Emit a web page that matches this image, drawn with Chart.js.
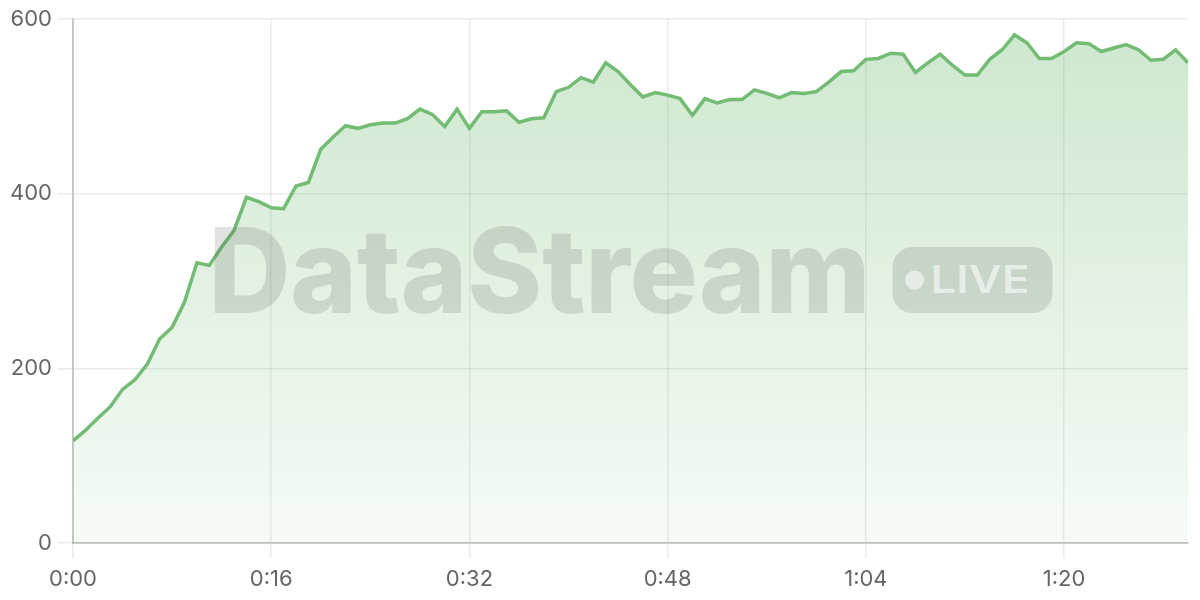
<!DOCTYPE html>
<html>
<head>
<meta charset="utf-8">
<script src="https://cdn.jsdelivr.net/npm/chart.js@4/dist/chart.umd.min.js"></script>
<style>
html,body{margin:0;padding:0;background:#fff;}
#wrap{width:1200px;height:600px;position:relative;}
</style>
</head>
<body>
<div id="wrap"><canvas id="c" width="1200" height="600"></canvas></div>
<script>
// seconds elapsed
const seconds = [
  0,1,2,3,4,5,6,7,8,9,10,11,12,13,14,15,16,17,18,19,
  20,21,22,23,24,25,26,27,28,29,30,31,32,33,34,35,36,37,38,39,
  40,41,42,43,44,45,46,47,48,49,50,51,52,53,54,55,56,57,58,59,
  60,61,62,63,64,65,66,67,68,69,70,71,72,73,74,75,76,77,78,79,
  80,81,82,83,84,85,86,87,88,89,90
];
const values = [
  117,129,143,156,176,187,205,234,247,276,321,318,339,358,396,391,384,383,409,413,
  451,465,478,475,479,481,481,486,497,491,477,497,475,494,494,495,482,486,487,517,
  522,533,528,550,540,525,511,516,513,509,490,509,504,508,508,519,515,510,516,515,
  517,528,540,541,554,555,561,560,539,550,560,547,536,536,554,565,582,573,555,555,
  563,573,572,563,567,571,565,553,554,565,550
];
const yTicks = [0,200,400,600];
const xTickStep = 16;
const watermarkText = "DataStream";
const badgeText = "LIVE";

function fmtTime(s){
  const m = Math.floor(s/60), r = Math.round(s%60);
  return m + ":" + (r<10?"0":"") + r;
}

const watermark = {
  id:'watermark',
  afterDraw(chart){
    const ctx = chart.ctx, a = chart.chartArea;
    const cx = (a.left+a.right)/2, cy = (a.top+a.bottom)/2;
    const textW = 662, gap = 22, badgeW = 160, badgeH = 66;
    const total = textW+gap+badgeW;
    const left = cx - total/2;
    const baseline = cy + 32;
    ctx.save();
    ctx.fillStyle = 'rgba(70,80,70,0.17)';
    ctx.font = '800 118px Inter, "Open Sans", sans-serif';
    ctx.textBaseline = 'alphabetic';
    ctx.textAlign = 'left';
    const mw = ctx.measureText(watermarkText).width;
    ctx.save();
    ctx.translate(left, baseline);
    ctx.scale(textW/mw, 1);
    ctx.fillText(watermarkText, 0, 0);
    ctx.restore();
    // badge
    const bx = left+textW+gap, by = baseline-badgeH;
    ctx.beginPath();
    ctx.roundRect(bx, by, badgeW, badgeH, 20);
    ctx.fill();
    ctx.fillStyle = 'rgba(255,255,255,0.55)';
    ctx.beginPath();
    ctx.arc(bx+22, by+badgeH/2, 9.5, 0, Math.PI*2);
    ctx.fill();
    ctx.font = '600 38px Inter, "Open Sans", sans-serif';
    ctx.textBaseline = 'middle';
    const lw = ctx.measureText(badgeText).width;
    ctx.save();
    ctx.translate(bx+38, by+badgeH/2+1);
    ctx.scale(99/lw, 1);
    ctx.fillText(badgeText, 0, 0);
    ctx.restore();
    ctx.restore();
  }
};

const ctx = document.getElementById('c').getContext('2d');
new Chart(ctx, {
  type:'line',
  data:{
    datasets:[{
      data: seconds.map((s,i)=>({x:s, y:values[i]})),
      borderColor:'rgb(114,188,116)',
      borderWidth:3.5,
      pointRadius:0,
      tension:0,
      fill:'origin',
      backgroundColor(context){
        const c = context.chart, a = c.chartArea;
        if(!a) return 'rgba(112,186,114,0.2)';
        const g = c.ctx.createLinearGradient(0, a.top, 0, a.bottom);
        g.addColorStop(0, 'rgba(112,186,114,0.35)');
        g.addColorStop(1, 'rgba(112,186,114,0.06)');
        return g;
      }
    }]
  },
  options:{
    responsive:false,
    animation:false,
    devicePixelRatio:1,
    layout:{padding:{top:19,right:12,left:0,bottom:0}},
    plugins:{legend:{display:false},tooltip:{enabled:false}},
    scales:{
      x:{
        type:'linear',
        min:0, max:seconds[seconds.length-1],
        afterFit(s){ s.height = 57; },
        afterBuildTicks(s){ s.ticks = []; for(let v=0; v<=s.max; v+=xTickStep) s.ticks.push({value:v}); },
        ticks:{
          callback:(v)=>fmtTime(v),
          color:'#666',
          font:{family:'Inter, "Open Sans", sans-serif', size:22},
          padding:8,
          maxRotation:0
        },
        grid:{color:'rgba(0,0,0,0.08)', tickLength:15, lineWidth:1.5},
        border:{color:'rgba(0,0,0,0.17)', width:2}
      },
      y:{
        min:0, max:600,
        afterFit(s){ s.width = 73; },
        afterBuildTicks(s){ s.ticks = yTicks.map(v=>({value:v})); },
        ticks:{
          color:'#666',
          font:{family:'Inter, "Open Sans", sans-serif', size:22},
          padding:6
        },
        grid:{color:'rgba(0,0,0,0.08)', tickLength:15, lineWidth:1.5},
        border:{color:'rgba(0,0,0,0.17)', width:2}
      }
    }
  },
  plugins:[watermark]
});
</script>
</body>
</html>
